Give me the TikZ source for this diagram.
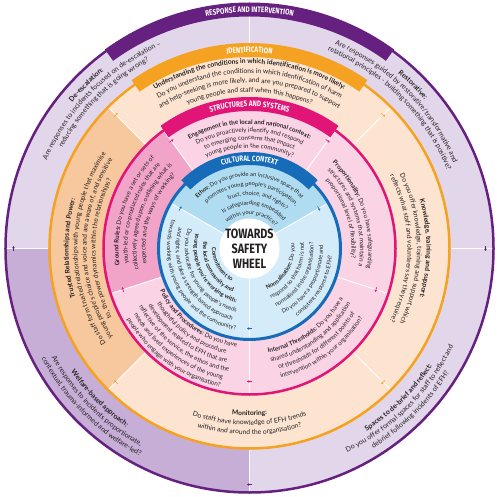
\documentclass[tikz,border=0pt]{standalone}
\usepackage{fontspec}
\usetikzlibrary{decorations.text,arrows.meta}
\newfontfamily\lato{Lato}
\newfontfamily\condfont[FakeStretch=0.8]{Fira Sans}
\definecolor{purp}{RGB}{102,33,128}
\definecolor{lavlight}{RGB}{226,215,234}
\definecolor{lavdark}{RGB}{199,174,214}
\definecolor{orng}{RGB}{245,162,35}
\definecolor{peach}{RGB}{252,228,209}
\definecolor{peachdark}{RGB}{247,199,158}
\definecolor{magn}{RGB}{225,20,120}
\definecolor{pinklight}{RGB}{250,211,229}
\definecolor{pinkdark}{RGB}{242,164,200}
\definecolor{blu}{RGB}{22,108,184}
\definecolor{blueethos}{RGB}{176,220,242}
\definecolor{bluelight}{RGB}{212,236,249}
\definecolor{txt}{RGB}{35,31,32}
\newcommand\purR{\lato\fontsize{7}{8}\selectfont\mdseries}
\newcommand\purB{\lato\fontsize{7}{8}\selectfont\bfseries}
\newcommand\oraR{\lato\fontsize{6.7}{8}\selectfont\mdseries}
\newcommand\oraB{\lato\fontsize{6.7}{8}\selectfont\bfseries}
\newcommand\pinR{\lato\fontsize{6.2}{7}\selectfont\mdseries}
\newcommand\pinB{\lato\fontsize{6.2}{7}\selectfont\bfseries}
\newcommand\bluR{\lato\fontsize{5.8}{7}\selectfont\mdseries}
\newcommand\bluB{\lato\fontsize{5.8}{7}\selectfont\bfseries}
\newcommand\bandfont{\condfont\fontsize{8}{9}\selectfont\bfseries}
\newcommand\bandfontS{\condfont\fontsize{7.8}{9}\selectfont\bfseries}
\newcommand\cwtext[3]{\path[arctext,decoration={text={#3}}] ({#1+\halfspan}:#2) arc[start angle={#1+\halfspan},end angle={#1-\halfspan},radius=#2];}
\newcommand\ccwtext[3]{\path[arctext,decoration={text={#3}}] ({#1-\halfspan}:#2) arc[start angle={#1-\halfspan},end angle={#1+\halfspan},radius=#2];}
\begin{document}
\begin{tikzpicture}[x=1pt,y=1pt,
  arctext/.style={decorate,decoration={text along path,text align=center,text color=txt}},
  bandtext/.style={decorate,decoration={text along path,text align=center,text color=white}},
  divider/.style={draw=white,line width=0.9pt},
  ringline/.style={line width=2.5pt},
  band/.style={line width=14pt},
  arrowmark/.style={line width=0.6pt,-{Stealth[length=2.4pt,width=2.8pt]}},
  centertext/.style={align=center,text=txt,font=\condfont\bfseries\fontsize{13.5}{15}\selectfont,inner sep=0pt}]
\useasboundingbox (-249.5,-248.5) rectangle (250.5,248.5);
% sector fills
\fill[lavlight] (0,0) circle[radius=244];
\fill[lavdark] (0,0) -- (180:244) arc[start angle=180,end angle=270,radius=244] -- cycle;
\fill[peach] (0,0) circle[radius=200];
\fill[peachdark] (0,0) -- (135:200) arc[start angle=135,end angle=225,radius=200] -- cycle;
\fill[pinklight] (0,0) circle[radius=146];
\fill[pinkdark] (0,0) -- (126:146) arc[start angle=126,end angle=198,radius=146] -- cycle;
\fill[bluelight] (0,0) circle[radius=91];
\fill[blueethos] (0,0) -- (30:91) arc[start angle=30,end angle=150,radius=91] -- cycle;
\fill[white] (0,0) circle[radius=30];
% dividers
\foreach \a in {0,90,180,270} \draw[divider] (\a:201) -- (\a:243);
\foreach \a in {45,135,225,315} \draw[divider] (\a:147) -- (\a:199);
\foreach \a in {54,126,198,270,342} \draw[divider] (\a:92.5) -- (\a:145);
\foreach \a in {30,150,270} \draw[divider] (\a:30) -- (\a:89.5);
% ring lines
\draw[ringline,purp] (0,0) circle[radius=244];
\draw[ringline,orng] (0,0) circle[radius=200];
\draw[ringline,magn] (0,0) circle[radius=146];
\draw[ringline,blu,line width=3pt] (0,0) circle[radius=91];
% title bands
\draw[band,purp] (54:239) arc[start angle=54,end angle=126,radius=239];
\draw[band,orng] (55:198.5) arc[start angle=55,end angle=125,radius=198.5];
\draw[band,magn] (54:144.5) arc[start angle=54,end angle=126,radius=144.5];
\draw[band,blu,line width=13pt] (45:90) arc[start angle=45,end angle=135,radius=90];
\path[bandtext,decoration={text={|\bandfont|RESPONSE AND INTERVENTION}}] (130:236.2) arc[start angle=130,end angle=50,radius=236.2];
\path[bandtext,decoration={text={|\bandfont|IDENTIFICATION}}] (130:195.7) arc[start angle=130,end angle=50,radius=195.7];
\path[bandtext,decoration={text={|\bandfont|STRUCTURES AND SYSTEMS}}] (130:141.7) arc[start angle=130,end angle=50,radius=141.7];
\path[bandtext,decoration={text={|\bandfontS|CULTURAL CONTEXT}}] (135:87.3) arc[start angle=135,end angle=45,radius=87.3];
% outer ring texts
\def\halfspan{50}
\cwtext{135}{229.5}{|\purB|De-escalation:}
\cwtext{135}{221}{|\purR|Are responses to incidents focused on de-escalation –}
\cwtext{135}{212.5}{|\purR|reducing something that is going wrong?}
\cwtext{45}{229.5}{|\purB|Restorative:}
\cwtext{45}{221}{|\purR|Are responses guided by restorative/transformative and}
\cwtext{45}{212.5}{|\purR|relational principles - building something that is positive?}
\ccwtext{-45}{217}{|\purB|Spaces to de-brief and reflect:}
\ccwtext{-45}{226}{|\purR|Do you offer formal spaces for staff to reflect and}
\ccwtext{-45}{235}{|\purR|debrief following incidents of EFH?}
\ccwtext{225}{217}{|\purB|Welfare-based approach:}
\ccwtext{225}{226}{|\purR|Are responses to incidents proportionate,}
\ccwtext{225}{235}{|\purR|contextual, trauma-informed and welfare-led?}
% identification ring texts
\def\halfspan{46}
\cwtext{90}{184.8}{|\oraB|Understanding the conditions in which identification is more likely:}
\cwtext{90}{175.3}{|\oraR|Do you understand the conditions in which identification of harm}
\cwtext{90}{165.8}{|\oraR|and help-seeking is more likely, and are you prepared to support}
\cwtext{90}{156.3}{|\oraR|young people and staff when this happens?}
\cwtext{0}{177}{|\oraB|Knowledge, training and support:}
\cwtext{0}{167.5}{|\oraR|Do you offer knowledge, training and support which}
\cwtext{0}{158}{|\oraR|reflects what staff and volunteers say they require?}
\ccwtext{270}{167}{|\oraB|Monitoring:}
\ccwtext{270}{176.5}{|\oraR|Do staff have knowledge of EFH trends}
\ccwtext{270}{186}{|\oraR|within and around the organisation?}
\cwtext{180}{181}{|\oraB|Trusted Relationships and Power:}
\cwtext{180}{172}{|\oraR|Do staff form trusted relationships with young people that maximise}
\cwtext{180}{163}{|\oraR|young people’s choice and voice and are aware of, and sensitive}
\cwtext{180}{154}{|\oraR|to, the power dynamics within the relationships?}
% structures ring texts
\def\halfspan{40}
\cwtext{90}{124.5}{|\pinB|Engagement in the local and national context:}
\cwtext{90}{116.5}{|\pinR|Do you proactively identify and respond}
\cwtext{90}{108.5}{|\pinR|to emerging concerns that impact}
\cwtext{90}{100.5}{|\pinR|young people in the community?}
\cwtext{18}{119}{|\pinB|Proportionality: |\pinR|Do you have safeguarding}
\cwtext{18}{110.5}{|\pinR|structures and systems that maintain a}
\cwtext{18}{102}{|\pinR|proportional level of flexibility?}
\ccwtext{-54}{106}{|\pinB|Internal Thresholds: |\pinR|Do you have a}
\ccwtext{-54}{115}{|\pinR|shared understanding and application}
\ccwtext{-54}{124}{|\pinR|of thresholds for different points of}
\ccwtext{-54}{133}{|\pinR|intervention within your organisation?}
\ccwtext{234}{99}{|\pinB|Policy and Procedures: |\pinR|Do you have}
\ccwtext{234}{107.5}{|\pinR|thoughtful policy and procedure}
\ccwtext{234}{116}{|\pinR|development related to EFH that are}
\ccwtext{234}{124.5}{|\pinR|reflective of the service, the ethos and the}
\ccwtext{234}{133}{|\pinR|needs and lived experiences of the young}
\ccwtext{234}{141.5}{|\pinR|people who engage with your organisation?}
\cwtext{162}{131}{|\pinB|Ground Rules: |\pinR|Do you have a set or sets of}
\cwtext{162}{122}{|\pinR|youth-led or co-produced rules that are}
\cwtext{162}{113}{|\pinR|collectively agreed upon, outlining what is}
\cwtext{162}{104}{|\pinR|expected and the ways of working?}
% cultural context texts
\def\halfspan{62}
\cwtext{90}{72}{|\bluB|Ethos: |\bluR|Do you provide an inclusive space that}
\cwtext{88}{62.5}{|\bluR|promotes young people’s participation,}
\cwtext{80}{53}{|\bluR|trust, choice, and rights?}
\cwtext{83}{43.5}{|\bluR|Is safeguarding embedded}
\cwtext{86}{34}{|\bluR|within your practice?}
\ccwtext{-30}{45}{|\bluB|Normalisation: |\bluR|Do you}
\ccwtext{-30}{54.5}{|\bluR|respond so that harm is not}
\ccwtext{-30}{64}{|\bluR|normalised in the organisation?}
\ccwtext{-30}{73.5}{|\bluR|Do you have a proportionate and}
\ccwtext{-30}{83}{|\bluR|consistent response to EFH?}
\ccwtext{210}{37.5}{|\bluB|Commitment to}
\ccwtext{210}{46.5}{|\bluB|the local community and}
\ccwtext{210}{55.5}{|\bluB|young people you’re working with:}
\ccwtext{210}{64.5}{|\bluR|Do you advocate for young people’s needs}
\ccwtext{210}{73.5}{|\bluR|and rights, and take a strength-based approach}
\ccwtext{210}{82.5}{|\bluR|towards working with young people and the community?}
% clockwise arrow marks
\foreach \a in {0,180,270} \draw[arrowmark,purp,shift={(\a:236)},rotate=\a] (0,2.5) -- (0,-2.5);
\foreach \a in {45,135,225,315} \draw[arrowmark,orng,shift={(\a:189)},rotate=\a] (0,2.5) -- (0,-2.5);
\foreach \a in {54,126,198,270,342} \draw[arrowmark,magn,shift={(\a:133)},rotate=\a] (0,2.5) -- (0,-2.5);
\foreach \a in {30,150,270} \draw[arrowmark,blu,shift={(\a:80)},rotate=\a] (0,2.5) -- (0,-2.5);
% centre
\node[centertext] (centre) at (0,0) {TOWARDS\\SAFETY\\WHEEL};
\end{tikzpicture}
\end{document}
